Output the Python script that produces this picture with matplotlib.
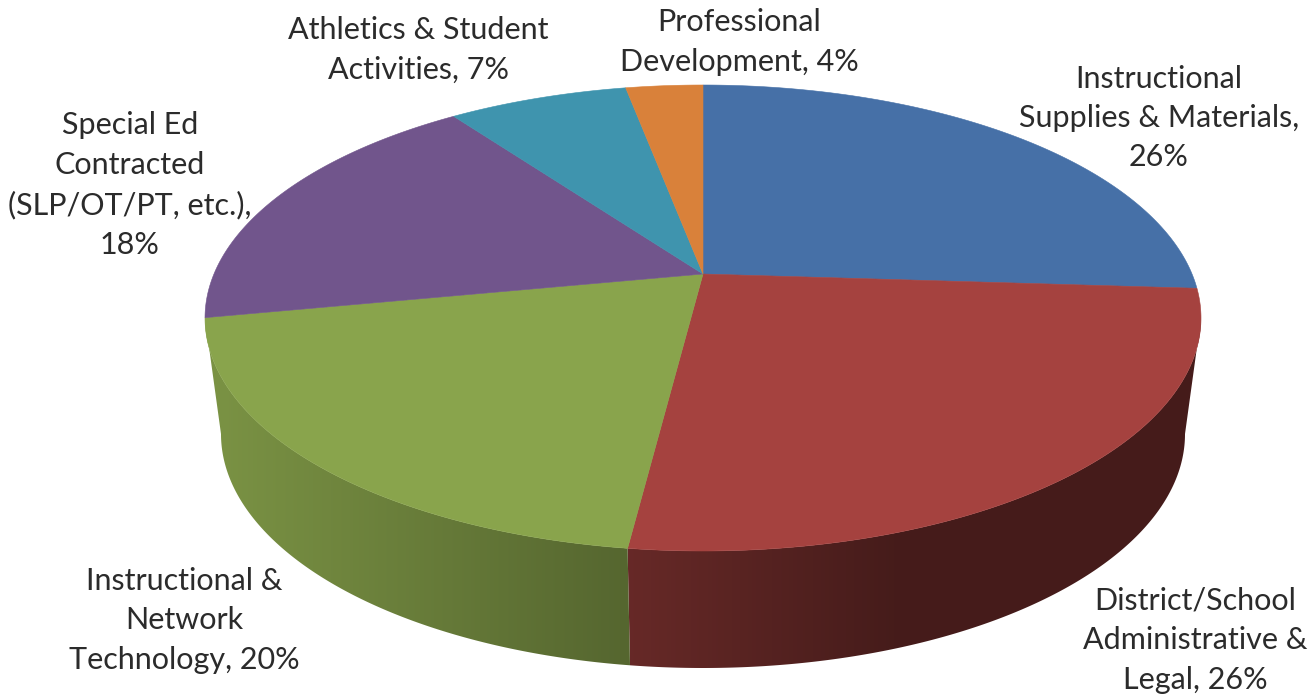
import numpy as np
import matplotlib
matplotlib.use("Agg")
import matplotlib.pyplot as plt
from matplotlib.colors import to_rgb
from matplotlib.patches import Polygon

# Budget shares in percent, clockwise from twelve o'clock
categories = [
    "Instructional\nSupplies & Materials,\n26%",
    "District/School\nAdministrative &\nLegal, 26%",
    "Instructional &\nNetwork\nTechnology, 20%",
    "Special Ed\nContracted\n(SLP/OT/PT, etc.),\n18%",
    "Athletics & Student\nActivities, 7%",
    "Professional\nDevelopment, 4%",
]
values = [26, 26, 20, 18, 7, 4]
colors = ["#4670A7", "#A5423F", "#89A44C", "#71558C", "#3F94AE", "#D9813A"]
label_xy = [(1159, 118), (1195, 640), (184, 620), (130, 185), (418, 50), (739, 42)]

W, H = 1314, 698
CX = 703
K = 0.1888          # perspective strength of the tilted disc
TOP = dict(cy=318.0, rx=498.0, ry=233.0)
BOTTOM = dict(cy=434.0, rx=482.0, ry=234.0)


def project(theta, cy, rx, ry):
    """Map a clockwise angle on the round pie onto the tilted ellipse."""
    X, Y = np.sin(theta), np.cos(theta)
    d = 1 + K * Y
    u = rx * np.sqrt(1 - K ** 2) * X / d
    v = (ry * Y + K * ry) / d
    return CX + u, cy - v


fig = plt.figure(figsize=(W / 100, H / 100), dpi=100)
ax = fig.add_axes([0, 0, 1, 1])
ax.axis("off")

# Percentages round to 101, so the last slice closes the circle at 100
edges = 2 * np.pi * np.minimum(np.concatenate([[0], np.cumsum(values)]), 100) / 100

# The rim darkens towards the lower right
column_x = np.arange(W) + 0.5
shade = np.interp(column_x, [205, 632, 900, 1201], [0.90, 0.62, 0.42, 0.42])

# Only the arc between the two silhouette tangents faces the viewer
front_start = np.arccos(-K)
front_end = 2 * np.pi - front_start

for a0, a1, color in zip(edges[:-1], edges[1:], colors):
    start, end = max(a0, front_start), min(a1, front_end)
    if end <= start:
        continue
    t = np.linspace(start, end, 300)
    xt, yt = project(t, **TOP)
    xb, yb = project(t, **BOTTOM)
    outline = Polygon(np.c_[np.r_[xt, xb[::-1]], np.r_[yt, yb[::-1]]], closed=True,
                      transform=ax.transData, fc="none", ec="none")
    ax.add_patch(outline)
    gradient = shade[None, :, None] * np.array(to_rgb(color))[None, None, :]
    img = ax.imshow(gradient, extent=(0, W, H, 0), aspect="auto",
                    interpolation="nearest", zorder=1)
    img.set_clip_path(outline)

ax.set_xlim(0, W)
ax.set_ylim(H, 0)

# Top face
apex_x, apex_y = CX, TOP["cy"] - K * TOP["ry"]
for a0, a1, color in zip(edges[:-1], edges[1:], colors):
    t = np.linspace(a0, a1, 200)
    x, y = project(t, **TOP)
    ax.fill(np.r_[apex_x, x], np.r_[apex_y, y], color=color, lw=0.4, zorder=2)

for text, (lx, ly) in zip(categories, label_xy):
    ax.text(lx, ly, text, ha="center", va="center", family="Lato", fontsize=22,
            color="#2b2b2b", linespacing=1.5, zorder=3)

fig.savefig("out.png", dpi=100, facecolor="white")
